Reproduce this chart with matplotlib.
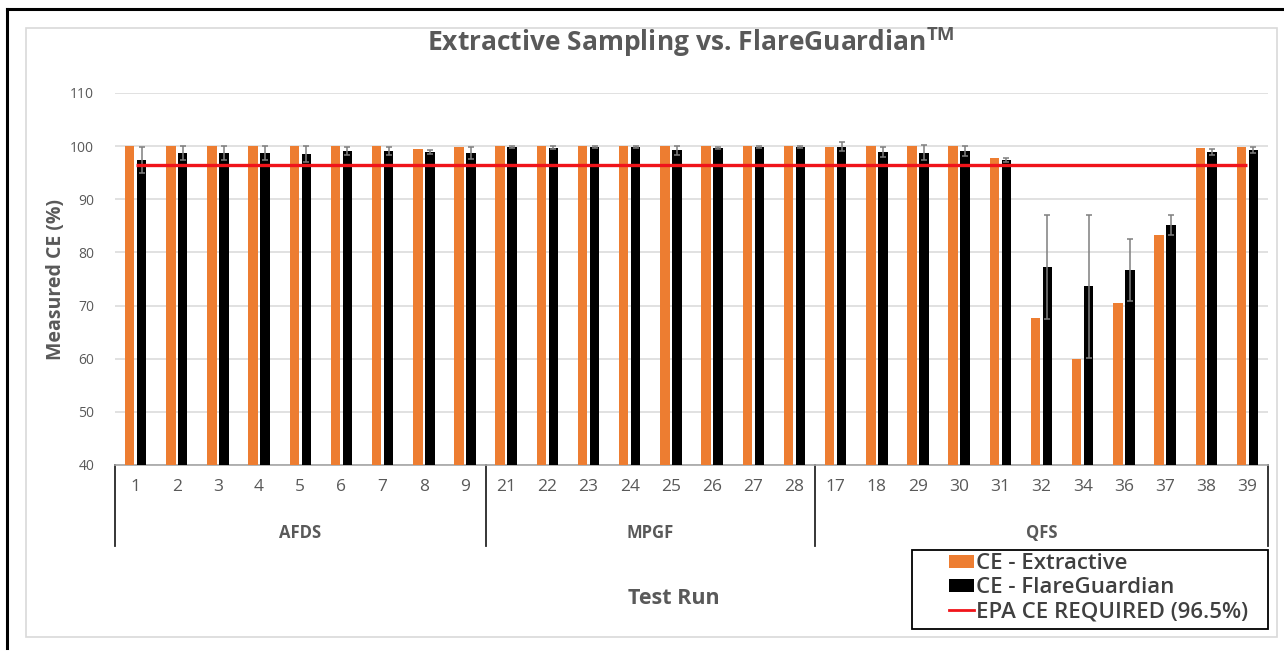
import matplotlib
matplotlib.use("Agg")
import matplotlib.pyplot as plt
from matplotlib.patches import Patch, Rectangle
from matplotlib.lines import Line2D
import matplotlib.transforms as mtrans
import numpy as np

plt.rcParams['font.family'] = ['Open Sans', 'DejaVu Sans']

# ---- data ----
groups = ["AFDS", "MPGF", "QFS"]
group_sizes = [9, 8, 11]
runs = ["1", "2", "3", "4", "5", "6", "7", "8", "9",
        "21", "22", "23", "24", "25", "26", "27", "28",
        "17", "18", "29", "30", "31", "32", "34", "36", "37", "38", "39"]
ce_extractive = [100, 100, 100, 100, 100, 100, 100, 99.4, 99.8,
                 100, 100, 100, 100, 100, 100, 100, 100,
                 99.8, 100, 100, 100, 97.7, 67.6, 60.0, 70.5, 83.3, 99.6, 99.8]
ce_flareguardian = [97.4, 98.7, 98.7, 98.7, 98.5, 99.1, 99.1, 98.9, 98.7,
                    99.9, 99.7, 99.9, 99.9, 99.2, 99.7, 99.8, 99.9,
                    99.9, 98.9, 98.8, 99.1, 97.4, 77.3, 73.6, 76.7, 85.1, 98.9, 99.3]
fg_error = [2.5, 1.3, 1.3, 1.3, 1.5, 0.8, 0.8, 0.4, 1.1,
            0.2, 0.3, 0.2, 0.2, 0.8, 0.2, 0.2, 0.2,
            0.8, 1.0, 1.4, 0.9, 0.3, 9.8, 13.5, 5.9, 1.9, 0.6, 0.5]
epa_required = [96.5] * len(runs)
yticks = [40, 50, 60, 70, 80, 90, 100, 110]

# ---- figure ----
W, H = 1284, 651
fig = plt.figure(figsize=(W / 100, H / 100), dpi=100)
fig.patch.set_facecolor("white")

def fx(px):
    return px / W

def fy(py):
    return 1 - py / H

# outer frame (black left/top) and inner chart border (light gray)
fig.add_artist(Line2D([fx(7), fx(7)], [fy(9), fy(648)], color="black", lw=2.2))
fig.add_artist(Line2D([fx(7), fx(1284)], [fy(9), fy(9)], color="black", lw=2.2))
fig.add_artist(Rectangle((fx(26), fy(637)), fx(1277) - fx(26), fy(28) - fy(637),
                         fill=False, edgecolor="#D9D9D9", lw=1.2))

ax = fig.add_axes([fx(115), fy(465), fx(1268) - fx(115), fy(93) - fy(465)])
n = len(runs)
x = np.arange(n) + 0.5
bw = 0.23
off = 0.145

ax.bar(x - off, ce_extractive, width=bw, color="#ED7D31", zorder=3)
ax.bar(x + off, ce_flareguardian, width=bw, color="black", zorder=3,
       yerr=fg_error, error_kw=dict(ecolor="#7F7F7F", elinewidth=1.1, capsize=2.5, capthick=1.1))
ax.plot(x, epa_required, color="#F0141A", lw=2.4, zorder=5, solid_capstyle="butt")

ax.set_xlim(0, n)
ax.set_ylim(40, 110)
ax.set_yticks(yticks)
ax.set_yticklabels([str(t) for t in yticks], fontsize=10, color="#595959")
ax.tick_params(axis="y", length=0, pad=15)
ax.set_xticks([])
for s in ["top", "right", "left"]:
    ax.spines[s].set_visible(False)
ax.spines["bottom"].set_color("#A6A6A6")
ax.spines["bottom"].set_linewidth(1.2)
ax.grid(axis="y", color="#D9D9D9", lw=1.1, zorder=0)
ax.set_axisbelow(True)

# multi-level category axis
tr = mtrans.blended_transform_factory(ax.transData, ax.transAxes)
ybot = -0.218
bounds = np.concatenate([[0], np.cumsum(group_sizes)])
for b in bounds:
    ax.add_artist(Line2D([b, b], [0, ybot], transform=tr, color="#262626", lw=1.3, clip_on=False))
for xi, lab in zip(x, runs):
    ax.text(xi, -0.059, lab, transform=tr, ha="center", va="center",
            fontsize=12.5, color="#595959")
for g, a, b in zip(groups, bounds[:-1], bounds[1:]):
    ax.text((a + b) / 2, -0.183, g, transform=tr, ha="center", va="center",
            fontsize=12, color="#595959", fontweight="bold")

# titles
fig.text(fx(691), fy(42), "Extractive Sampling vs. FlareGuardian$^{\\mathregular{TM}}$",
         ha="center", va="center", fontsize=19, fontweight="bold", color="#595959")
fig.text(fx(56), fy(279), "Measured CE (%)", rotation=90, ha="center", va="center",
         fontsize=14, fontweight="bold", color="#595959")
fig.text(fx(674), fy(598), "Test Run", ha="center", va="center",
         fontsize=15.5, fontweight="bold", color="#595959")

# legend
fig.add_artist(Rectangle((fx(912), fy(629)), fx(1268) - fx(912), fy(550) - fy(629),
                         fill=False, edgecolor="black", lw=1.3))
handles = [Patch(facecolor="#ED7D31", edgecolor="none"),
           Patch(facecolor="black", edgecolor="none"),
           Line2D([0], [0], color="#F0141A", lw=2)]
labels = ["CE - Extractive", "CE - FlareGuardian", "EPA CE REQUIRED (96.5%)"]
fig.legend(handles, labels, loc="upper left", bbox_to_anchor=(fx(936), fy(540)),
           frameon=False, labelcolor="#404040", handlelength=1.1,
           handleheight=0.55, handletextpad=0.1, labelspacing=0.14, borderpad=0.1,
           prop=dict(size=16, weight="semibold"))

fig.savefig("out.png", dpi=100, facecolor="white")
